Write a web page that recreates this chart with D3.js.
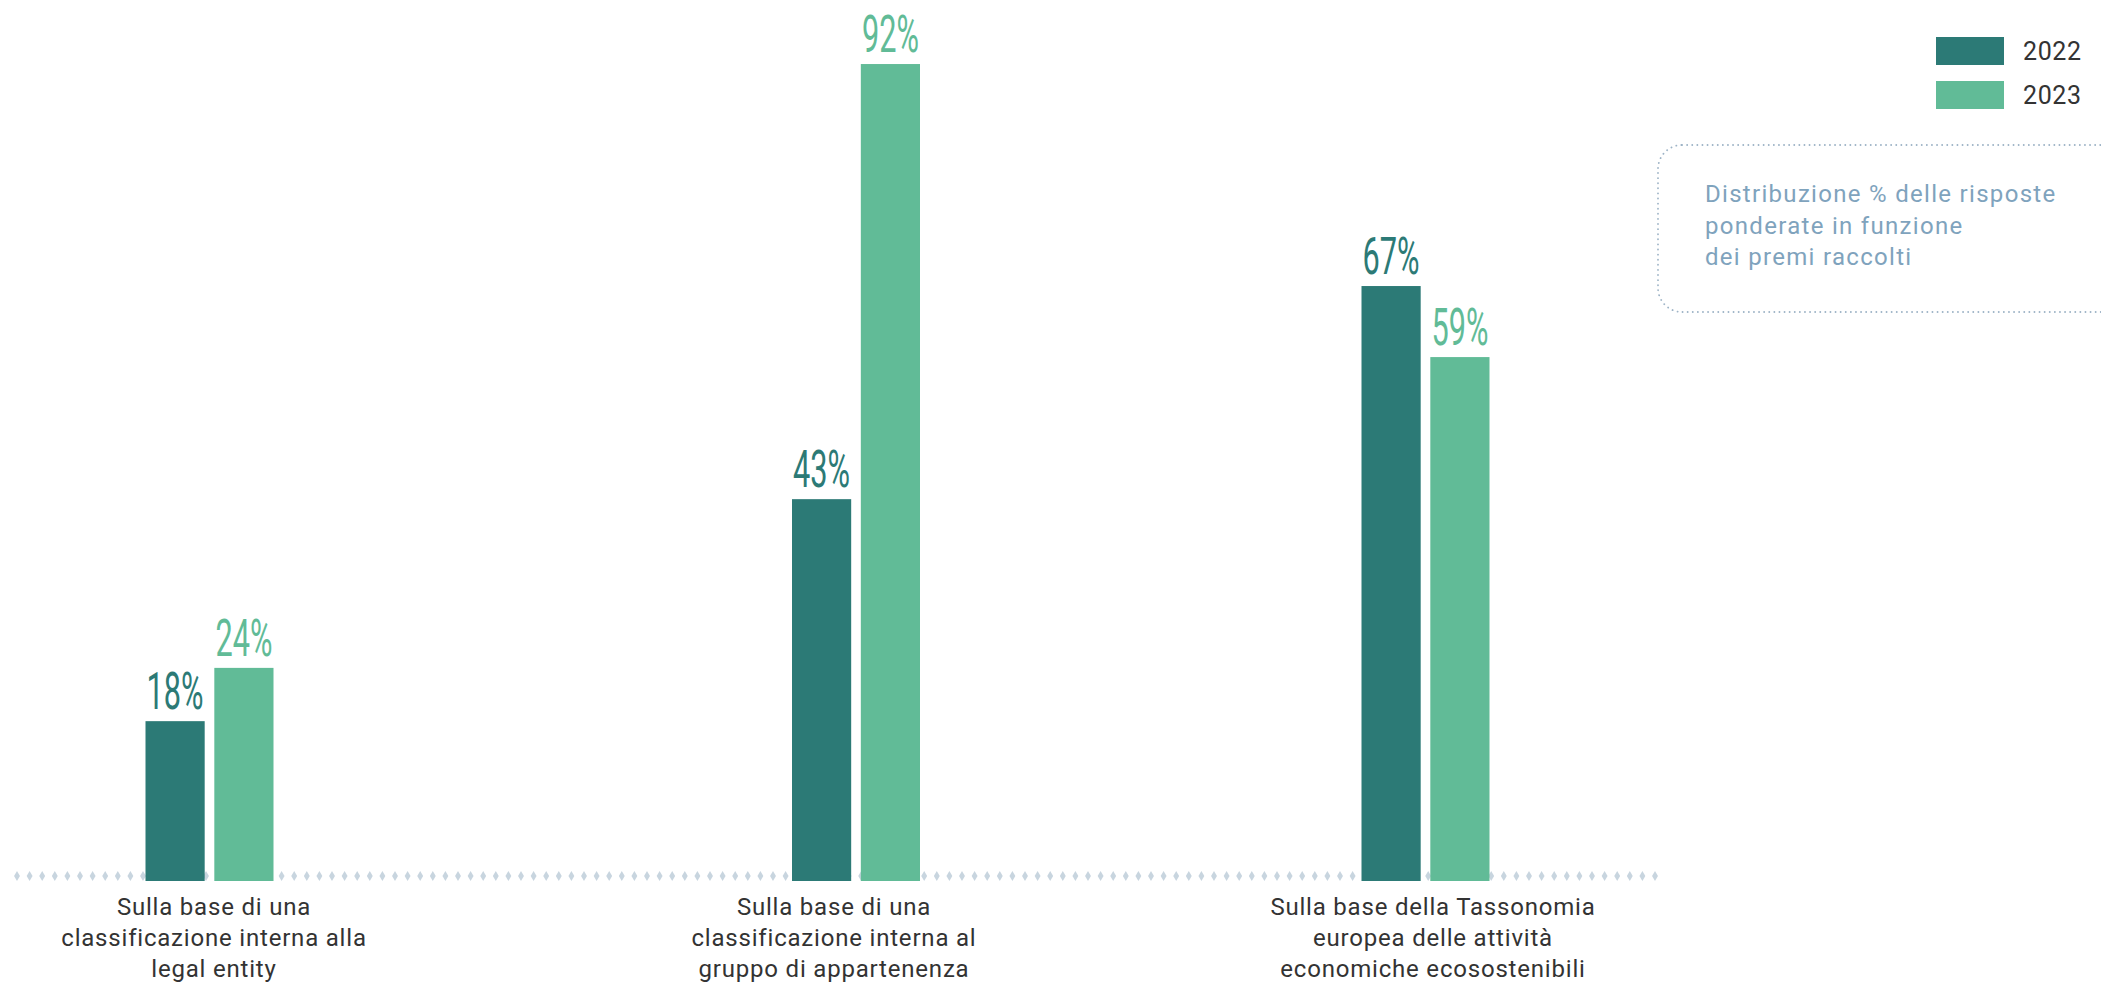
<!DOCTYPE html>
<html>
<head>
<meta charset="utf-8">
<script src="https://cdn.jsdelivr.net/npm/d3@7/dist/d3.min.js"></script>
<style>
  html, body { margin: 0; padding: 0; background: #ffffff; }
  svg { display: block; }
</style>
</head>
<body>
<svg id="chart" width="2101" height="987"></svg>
<script>
// ---- Data ----
const categories = [
  ["Sulla base di una", "classificazione interna alla", "legal entity"],
  ["Sulla base di una", "classificazione interna al", "gruppo di appartenenza"],
  ["Sulla base della Tassonomia", "europea delle attività", "economiche ecosostenibili"]
];
const categoryKeys = ["legal", "gruppo", "tassonomia"];
const seriesNames = ["2022", "2023"];
const values2022 = [18, 43, 67];
const values2023 = [24, 92, 59];
const noteLines = ["Distribuzione % delle risposte", "ponderate in funzione", "dei premi raccolti"];

// ---- Layout ----
const svg = d3.select("#chart");
const baseY = 881;
const colors = { "2022": "#2c7a76", "2023": "#61bb97" };
const valueFont = "Roboto, 'Liberation Sans', Arial, sans-serif";
const textFont = "Roboto, 'Liberation Sans', Arial, sans-serif";

const y = d3.scaleLinear().domain([0, 100]).range([baseY, baseY - 888]);
const xGroup = d3.scaleOrdinal().domain(categoryKeys).range([209.5, 856, 1425.5]);
const xLabel = d3.scaleOrdinal().domain(categoryKeys).range([214, 834, 1433]);
const xInner = d3.scaleBand().domain(seriesNames).range([-64, 64]).paddingInner(0.14);

const seriesValues = { "2022": values2022, "2023": values2023 };
const rows = [];
categoryKeys.forEach((k, i) => {
  seriesNames.forEach(s => rows.push({ key: k, series: s, value: seriesValues[s][i] }));
});

// dotted baseline (small diamonds)
const dotXs = d3.range(17, 1661, 12.6);
svg.append("g").selectAll("path").data(dotXs).join("path")
  .attr("d", d3.symbol(d3.symbolDiamond, 30))
  .attr("transform", d => `translate(${d}, ${baseY - 5})`)
  .attr("fill", "#c8d5df");

// bars
svg.append("g").selectAll("rect").data(rows).join("rect")
  .attr("x", d => xGroup(d.key) + xInner(d.series))
  .attr("y", d => y(d.value))
  .attr("width", xInner.bandwidth())
  .attr("height", d => y(0) - y(d.value))
  .attr("fill", d => colors[d.series]);

// value labels (condensed look)
svg.append("g").selectAll("text").data(rows).join("text")
  .attr("x", d => xGroup(d.key) + xInner(d.series) + xInner.bandwidth() / 2)
  .attr("y", d => y(d.value) - 12)
  .attr("text-anchor", "middle")
  .attr("font-family", valueFont)
  .attr("font-size", 51)
  .attr("font-weight", 400)
  .attr("textLength", 57)
  .attr("lengthAdjust", "spacingAndGlyphs")
  .attr("fill", d => colors[d.series])
  .text(d => d.value + "%");

// category labels
const catG = svg.append("g").selectAll("text").data(categoryKeys).join("text")
  .attr("x", d => xLabel(d))
  .attr("y", 915)
  .attr("text-anchor", "middle")
  .attr("font-family", textFont)
  .attr("font-size", 24)
  .attr("letter-spacing", 0.8)
  .attr("fill", "#333333");
catG.each(function(d, i) {
  const t = d3.select(this);
  categories[i].forEach((line, j) => {
    t.append("tspan").attr("x", xLabel(d)).attr("y", 915 + j * 31).text(line);
  });
});

// legend
const leg = svg.append("g").selectAll("g").data(seriesNames).join("g")
  .attr("transform", (d, i) => `translate(1936, ${37 + i * 44})`);
leg.append("rect").attr("width", 68).attr("height", 28).attr("fill", d => colors[d]);
leg.append("text")
  .attr("x", 87).attr("y", 23)
  .attr("font-family", textFont)
  .attr("font-size", 25)
  .attr("letter-spacing", 0.6)
  .attr("fill", "#333333")
  .text(d => d);

// note box
svg.append("rect")
  .attr("x", 1658).attr("y", 145)
  .attr("width", 520).attr("height", 167)
  .attr("rx", 24)
  .attr("fill", "none")
  .attr("stroke", "#9db3c6")
  .attr("stroke-width", 1.8)
  .attr("stroke-linecap", "round")
  .attr("stroke-dasharray", "0.1 5");
svg.append("g").selectAll("text").data(noteLines).join("text")
  .attr("x", 1705)
  .attr("y", (d, i) => 202 + i * 31.5)
  .attr("font-family", textFont)
  .attr("font-size", 24)
  .attr("letter-spacing", 1.3)
  .attr("fill", "#7fa3bd")
  .text(d => d);
</script>
</body>
</html>
